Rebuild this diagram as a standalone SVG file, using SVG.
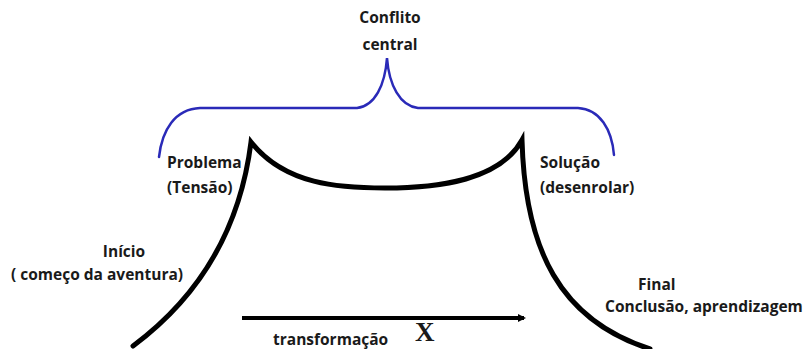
<svg xmlns="http://www.w3.org/2000/svg" width="807" height="349" viewBox="0 0 807 349">
<defs>
<style>
.lbl{font-family:"Open Sans","Liberation Sans",sans-serif;font-weight:bold;font-size:15.5px;fill:#1a1a1a}
.curve{fill:none;stroke:#000;stroke-width:5;stroke-linecap:round;stroke-linejoin:miter}
.brace{fill:none;stroke:#2a2ab8;stroke-width:2.5;stroke-linecap:round}
</style>
<marker id="ah" markerWidth="8" markerHeight="8" refX="6" refY="4" orient="auto" markerUnits="userSpaceOnUse">
<path d="M0,0 L8,4 L0,8 Z" fill="#000"/>
</marker>
</defs>
<rect width="807" height="349" fill="#fff"/>
<g id="connectors">
<path class="brace" d="M159,157 C162,130 175,109 200,108 L357,108 C375,106 385,85 387,58 C389,85 400,106 418,108 L578,108 C600,109 612,130 614,155"/>
<path class="curve" d="M133,346 Q235,270 251,142 C285,185 340,188 385,188 C440,188 500,180 522,140 C525,250 560,320 650,349"/>
<line x1="242" y1="318" x2="524" y2="318" stroke="#000" stroke-width="4" marker-end="url(#ah)"/>
</g>
<g id="conflito"><text class="lbl" x="390" y="23" text-anchor="middle">Conflito</text><text class="lbl" x="390" y="50" text-anchor="middle">central</text></g>
<g id="problema"><text class="lbl" x="167" y="168">Problema</text><text class="lbl" x="167" y="193">(Tensão)</text></g>
<g id="solucao"><text class="lbl" x="540" y="168">Solução</text><text class="lbl" x="540" y="193">(desenrolar)</text></g>
<g id="inicio"><text class="lbl" x="124" y="257" text-anchor="middle">Início</text><text class="lbl" x="11" y="280">( começo da aventura)</text></g>
<g id="final"><text class="lbl" x="638" y="290">Final</text><text class="lbl" x="605" y="312">Conclusão, aprendizagem</text></g>
<g id="transformacao"><text class="lbl" x="273" y="345">transformação</text><text x="415" y="341" font-family="Liberation Serif,serif" font-weight="bold" font-size="27" fill="#1a1a1a">X</text></g>
</svg>
